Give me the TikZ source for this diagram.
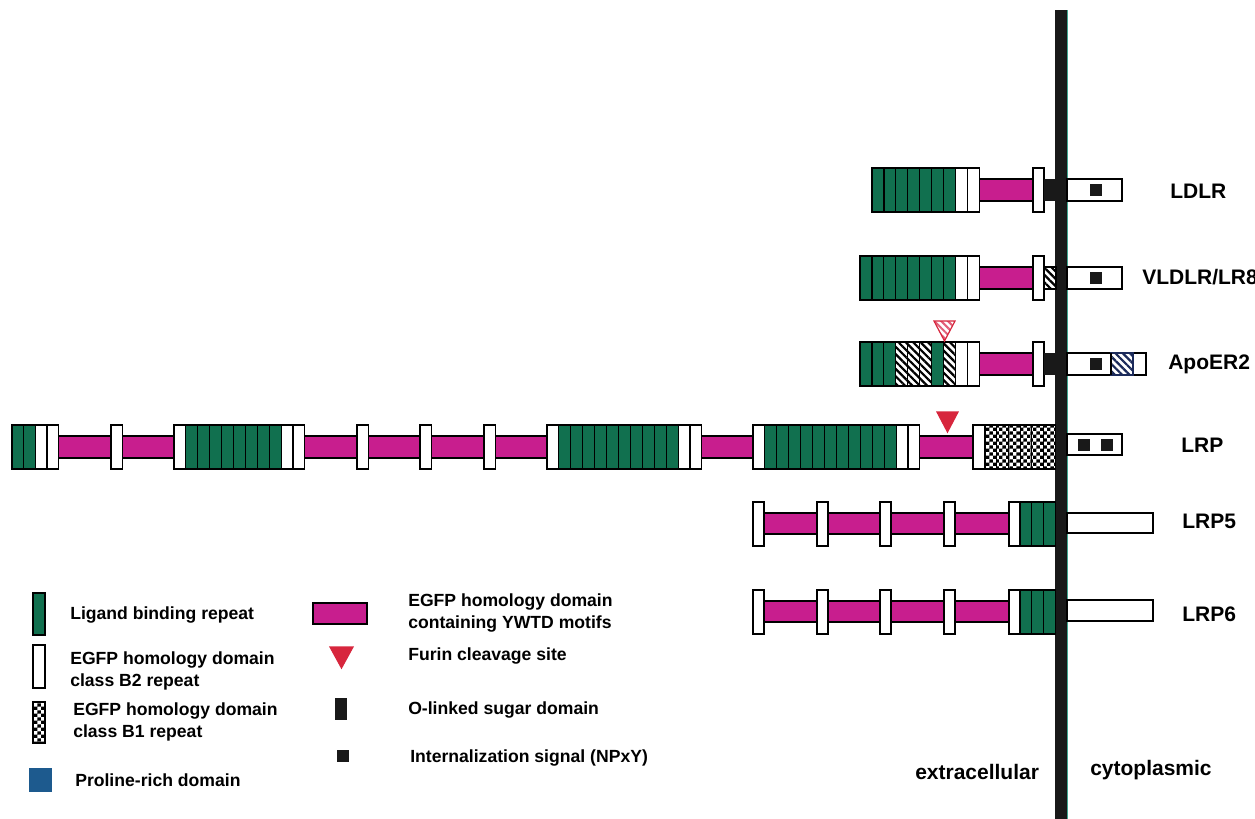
\documentclass[tikz,border=0pt]{standalone}
\usepackage{fontspec}
\setmainfont{Liberation Sans}
\usetikzlibrary{patterns, patterns.meta, positioning}
\definecolor{ligandgreen}{HTML}{11704F}
\definecolor{ywtdpink}{HTML}{C81E8E}
\definecolor{furinred}{HTML}{D7263D}
\definecolor{furinpink}{HTML}{E2607A}
\definecolor{prolineblue}{HTML}{1D5A8E}
\definecolor{hatchnavy}{HTML}{1B2A5A}
\definecolor{memteal}{HTML}{3FA58F}
\pgfdeclarepatternformonly{finecheck}{\pgfpointorigin}{\pgfqpoint{3.4pt}{3.4pt}}{\pgfqpoint{3.4pt}{3.4pt}}{%
    \pgfpathrectangle{\pgfpointorigin}{\pgfqpoint{1.7pt}{1.7pt}}%
    \pgfpathrectangle{\pgfqpoint{1.7pt}{1.7pt}}{\pgfqpoint{1.7pt}{1.7pt}}%
    \pgfusepath{fill}}

\begin{document}
\begin{tikzpicture}[x=0.5pt, y=-0.5pt, line width=0.6pt,
    ligand/.style={draw=black, fill=ligandgreen},
    classb2/.style={draw=black, fill=white},
    classb1/.style={draw=black, preaction={fill=white}, pattern=finecheck},
    ywtd/.style={draw=black, fill=ywtdpink},
    hatched/.style={draw=black, preaction={fill=white}, pattern={Lines[angle=-45, distance=2.6pt, line width=1.1pt]}},
    olinked/.style={fill=black!90},
    cyto/.style={draw=black, fill=white},
    npxy/.style={fill=black!90},
    furin/.style={draw=furinred, fill=furinred},
    tag/.style={anchor=west, font=\bfseries\fontsize{10.5}{12}\selectfont},
    keytext/.style={anchor=west, align=left, font=\bfseries\fontsize{8.8}{10.8}\selectfont}]

    \useasboundingbox (0,0) rectangle (1255,819);

    % membrane
    \fill[black!90] (1055,10) rectangle (1067,819);
    \draw[memteal, line width=0.4pt] (1067.4,10) -- (1067.4,819);

    % LDLR
    \draw[ywtd] (979,179) rectangle (1033,201);
    \foreach \i in {0,...,6}
        \draw[ligand] (872+\i*11.9,168) rectangle ++(11.9,44);
    \foreach \x in {955.3,967.2}
        \draw[classb2] (\x,168) rectangle ++(11.9,44);
    \draw[classb2] (1033,168) rectangle (1044,212);
    \fill[olinked] (1044,179) rectangle (1056,201);
    \draw[cyto] (1067,179) rectangle (1122,201);
    \fill[npxy] (1090,184) rectangle ++(12,12);
    \node (ldlr) [tag] at (1163,191) {LDLR};

    % VLDLR
    \draw[ywtd] (979,267) rectangle (1033,289);
    \foreach \i in {0,...,7}
        \draw[ligand] (860+\i*11.9,256) rectangle ++(11.9,44);
    \foreach \x in {955.3,967.2}
        \draw[classb2] (\x,256) rectangle ++(11.9,44);
    \draw[classb2] (1033,256) rectangle (1044,300);
    \draw[hatched] (1044,267) rectangle (1056,289);
    \draw[cyto] (1067,267) rectangle (1122,289);
    \fill[npxy] (1090,272) rectangle ++(12,12);
    \node (vldlr) [tag] at (1135,277) {VLDLR/LR8};

    % ApoER2
    \draw[ywtd] (979,353) rectangle (1033,375);
    \foreach \i in {0,1,2,6}
        \draw[ligand] (860+\i*11.9,342) rectangle ++(11.9,44);
    \foreach \i in {3,4,5,7}
        \draw[hatched] (860+\i*11.9,342) rectangle ++(11.9,44);
    \foreach \x in {955.3,967.2}
        \draw[classb2] (\x,342) rectangle ++(11.9,44);
    \draw[furinred, preaction={fill=white}, pattern={Lines[angle=-45, distance=2.4pt, line width=1pt]}, pattern color=furinpink]
        (934,321) -- (955,321) -- (944.5,341) -- cycle;
    \draw[classb2] (1033,342) rectangle (1044,386);
    \fill[olinked] (1044,353) rectangle (1056,375);
    \draw[cyto] (1067,353) rectangle (1146,375);
    \fill[npxy] (1090,358) rectangle ++(12,12);
    \draw[draw=hatchnavy, pattern={Lines[angle=-45, distance=2.6pt, line width=1.1pt]}, pattern color=hatchnavy]
        (1111,353) rectangle (1133,375);
    \draw (1111,353) -- (1111,375);
    \node (apoer2) [tag] at (1161,364) {ApoER2};

    % LRP
    \draw[ywtd] (40,436) rectangle (980,458);
    \foreach \i in {0,1}
        \draw[ligand] (12+\i*11.7,425) rectangle ++(11.7,44);
    \foreach \x in {35.4,47}
        \draw[classb2] (\x,425) rectangle ++(11.6,44);
    \foreach \x in {111,357,420,484,547}
        \draw[classb2] (\x,425) rectangle ++(11.5,44);
    \foreach \x in {174,753}
        \draw[classb2] (\x,425) rectangle ++(11.5,44);
    \foreach \i in {0,...,7}
        \draw[ligand] (185.5+\i*12,425) rectangle ++(12,44);
    \foreach \x in {281.5,293}
        \draw[classb2] (\x,425) rectangle ++(11.5,44);
    \foreach \i in {0,...,9}
        \draw[ligand] (558.5+\i*12,425) rectangle ++(12,44);
    \foreach \x in {678.5,690}
        \draw[classb2] (\x,425) rectangle ++(11.5,44);
    \foreach \i in {0,...,10}
        \draw[ligand] (764.5+\i*12,425) rectangle ++(12,44);
    \foreach \x in {896.5,908}
        \draw[classb2] (\x,425) rectangle ++(11.5,44);
    \draw[classb2] (973,425) rectangle (985,469);
    \foreach \i in {0,...,5}
        \draw[classb1] (985+\i*11.7,425) rectangle ++(11.7,44);
    \draw[furin] (937,412) -- (958,412) -- (947.5,432) -- cycle;
    \draw[cyto] (1067,434) rectangle (1122,455);
    \fill[npxy] (1078,439) rectangle ++(12,12);
    \fill[npxy] (1101,439) rectangle ++(12,12);
    \node (lrp) [tag] at (1174,445) {LRP};

    % LRP5
    \draw[ywtd] (760,513) rectangle (1012,534);
    \foreach \x in {753,817,880,944,1009}
        \draw[classb2] (\x,502) rectangle ++(11,44);
    \foreach \i in {0,1,2}
        \draw[ligand] (1020+\i*11.8,502) rectangle ++(11.8,44);
    \draw[cyto] (1067,513) rectangle (1153,533);
    \node (lrp5) [tag] at (1175,521) {LRP5};

    % LRP6
    \draw[ywtd] (760,601) rectangle (1012,622);
    \foreach \x in {753,817,880,944,1009}
        \draw[classb2] (\x,590) rectangle ++(11,44);
    \foreach \i in {0,1,2}
        \draw[ligand] (1020+\i*11.8,590) rectangle ++(11.8,44);
    \draw[cyto] (1067,600) rectangle (1153,621);
    \node (lrp6) [tag] at (1175,614) {LRP6};

    % key, first column
    \draw[ligand] (33,593) rectangle (45,635);
    \node (keylig) [keytext] at (63,615) {Ligand binding repeat};
    \draw[classb2] (33,645) rectangle (45,688);
    \node (keyb2) [keytext] at (63,671) {EGFP homology domain\\class B2 repeat};
    \draw[classb1] (33,702) rectangle (45,743);
    \node (keyb1) [keytext] at (66,722) {EGFP homology domain\\class B1 repeat};
    \fill[prolineblue] (29,768) rectangle (52,792);
    \node (keypro) [keytext] at (68,780) {Proline-rich domain};

    % key, second column
    \draw[ywtd] (313,603) rectangle (367,624);
    \node (keyywtd) [keytext] at (401,613) {EGFP homology domain\\containing YWTD motifs};
    \draw[furin] (330,647) -- (353,647) -- (341.5,668) -- cycle;
    \node (keyfurin) [keytext] at (401,656) {Furin cleavage site};
    \fill[olinked] (335,698) rectangle (347,720);
    \node (keyolink) [keytext] at (401,710) {O-linked sugar domain};
    \fill[npxy] (337,750) rectangle (349,762);
    \node (keynpxy) [keytext] at (403,758) {Internalization signal (NPxY)};

    % compartments
    \node (extra) [tag] at (908,772) {extracellular};
    \node (cyto) [tag] at (1083,770) {cytoplasmic};
\end{tikzpicture}
\end{document}
